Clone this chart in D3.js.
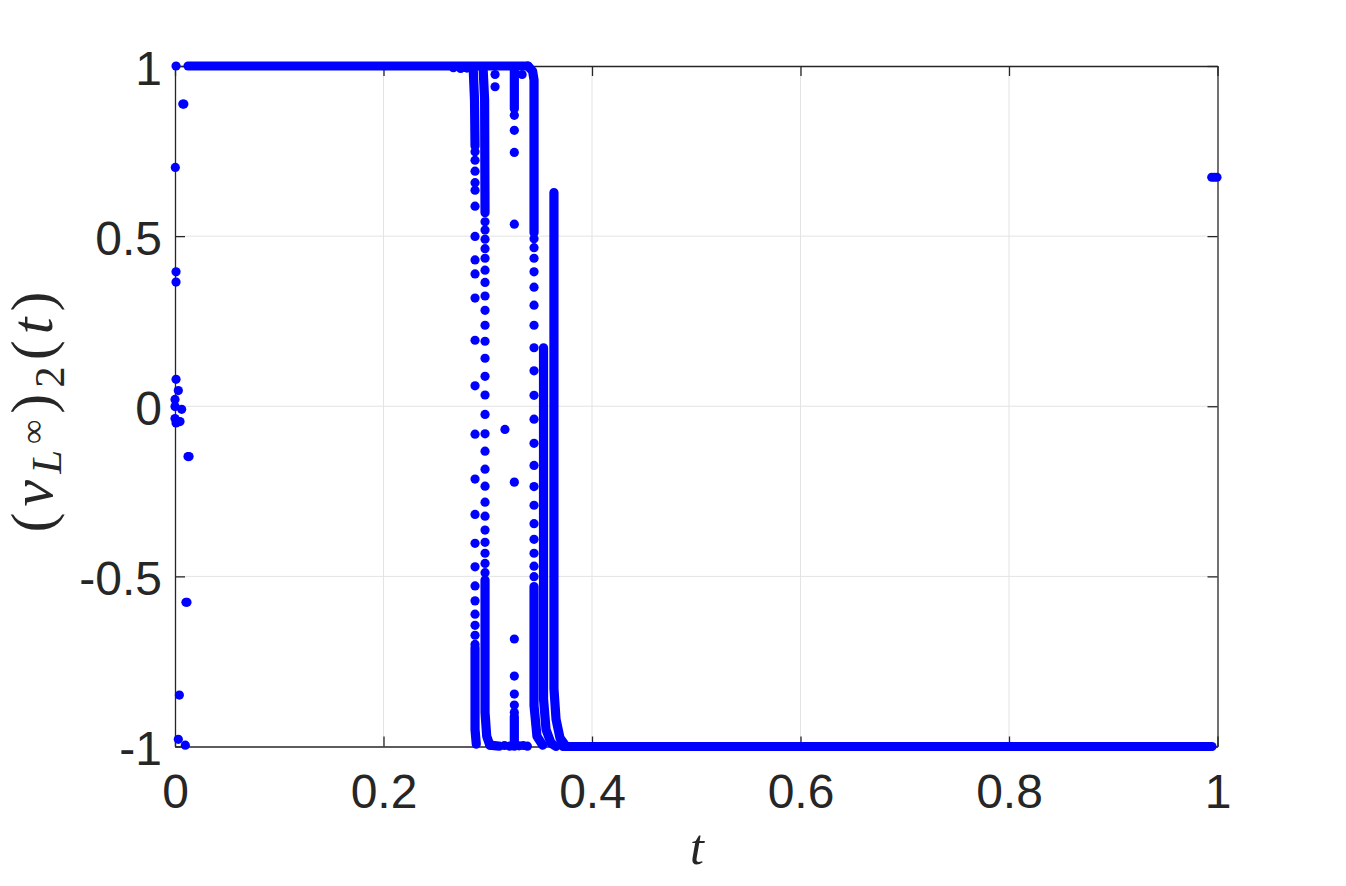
<!DOCTYPE html>
<html>
<head>
<meta charset="utf-8">
<script src="https://cdn.jsdelivr.net/npm/d3@7"></script>
<style>
  html, body { margin: 0; padding: 0; background: #ffffff; }
  svg { display: block; }
</style>
</head>
<body>
<svg id="chart" width="1346" height="886"></svg>
<script>
// ---------------- data ----------------
const xTicks = [0, 0.2, 0.4, 0.6, 0.8, 1];
const xTickLabels = ["0", "0.2", "0.4", "0.6", "0.8", "1"];
const yTicks = [-1, -0.5, 0, 0.5, 1];
const yTickLabels = ["-1", "-0.5", "0", "0.5", "1"];

// dense stretches of consecutive samples (markers overlap into a solid trace), [t, v]
const runTop      = [[0.0125, 1.0], [0.3386, 1.0]];
const runBottom   = [[0.3722, -1.0], [0.9947, -1.0]];
const runMidFloor = [[0.3020, -0.996], [0.3085, -0.998]];
const runA1 = [[0.2860, 0.995], [0.2873, 0.90], [0.2878, 0.765]];
const runA2 = [[0.2878, -0.710], [0.2878, -0.95], [0.2890, -0.993]];
const runB1 = [[0.2955, 0.995], [0.2970, 0.90], [0.2974, 0.569]];
const runB2 = [[0.2974, -0.511], [0.2974, -0.90], [0.2990, -0.97], [0.3020, -0.996]];
const runD1 = [[0.3255, 0.995], [0.3255, 0.874]];
const runD2 = [[0.3255, -0.912], [0.3255, -0.999]];
const runE1 = [[0.3386, 1.0], [0.3430, 0.985], [0.3444, 0.959], [0.3444, 0.510]];
const runE2 = [[0.3444, -0.530], [0.3444, -0.88], [0.3472, -0.97], [0.3527, -0.996]];
const runF  = [[0.3535, 0.172], [0.3535, -0.86], [0.3559, -0.95], [0.3607, -0.99], [0.3655, -1.0]];
const runG  = [[0.3635, 0.628], [0.3635, -0.83], [0.3655, -0.92], [0.3693, -0.975], [0.3751, -1.0]];

// isolated samples along the steep transitions
const colA_t = 0.2878;
const colA_v = [0.748, 0.723, 0.691, 0.657, 0.635, 0.588, 0.499, 0.430, 0.389, 0.318, 0.194, 0.060,
                -0.082, -0.214, -0.318, -0.403, -0.472, -0.528, -0.572, -0.611, -0.644, -0.673, -0.700];
const colB_t = 0.2974;
const colB_v = [0.542, 0.518, 0.491, 0.463, 0.435, 0.400, 0.364, 0.324, 0.282, 0.238, 0.191, 0.141,
                0.088, 0.033, -0.024, -0.081, -0.132, -0.185, -0.235, -0.282, -0.323, -0.364, -0.400,
                -0.432, -0.462, -0.489];
const colD_t = 0.3255;
const colD_v = [0.855, 0.811, 0.746, 0.535, -0.223, -0.684, -0.793, -0.846, -0.878, -0.900];
const colE_t = 0.3444;
const colE_v = [0.492, 0.466, 0.435, 0.395, 0.350, 0.297, 0.238, 0.172, 0.104, 0.032, -0.038, -0.109,
                -0.174, -0.236, -0.291, -0.345, -0.391, -0.432, -0.470, -0.501];

// other single samples, [t, v]
const looseDots = [
  [0.0010, 1.0], [0.0075, 0.888], [0.0085, 0.888], [0.0003, 0.702], [0.0010, 0.395], [0.0010, 0.365],
  [0.0010, 0.079], [0.0032, 0.046], [0.0000, 0.020], [0.0000, -0.001], [0.0064, -0.009],
  [0.0000, -0.036], [0.0048, -0.045], [0.0010, -0.049],
  [0.0125, -0.148], [0.0135, -0.148], [0.0105, -0.576], [0.0115, -0.576],
  [0.0042, -0.849], [0.0032, -0.979], [0.0099, -0.996],
  [0.2670, 0.995], [0.2740, 0.993], [0.2800, 0.994], [0.3070, 0.975], [0.3070, 0.939],
  [0.3165, -0.068], [0.3330, 0.975],
  [0.3110, -0.999], [0.3160, -0.997], [0.3210, -0.999], [0.3300, -0.998], [0.3340, -0.997], [0.3380, -0.999],
  [0.9945, 0.673], [0.9970, 0.673], [0.9995, 0.673]
];

// ---------------- drawing ----------------
const svg = d3.select("#chart");
const L = 175, R = 1217.5, T = 66, B = 746.5;
const x = d3.scaleLinear().domain([0, 1]).range([L, R]);
const y = d3.scaleLinear().domain([-1, 1]).range([B, T]);

const axisColor = "#262626";
const gridColor = "#e3e3e3";
const dotColor = "#0000ff";
const dotR = 4.6;

// grid
const grid = svg.append("g");
grid.selectAll("line.gx").data(xTicks.slice(1, -1)).enter().append("line")
  .attr("x1", d => x(d)).attr("x2", d => x(d)).attr("y1", T).attr("y2", B)
  .attr("stroke", gridColor).attr("stroke-width", 1);
grid.selectAll("line.gy").data(yTicks.slice(1, -1)).enter().append("line")
  .attr("y1", d => y(d)).attr("y2", d => y(d)).attr("x1", L).attr("x2", R)
  .attr("stroke", gridColor).attr("stroke-width", 1);

// axes
const fontSans = "'Liberation Sans', Arial, Helvetica, sans-serif";
const xAxis = d3.axisBottom(x).tickValues(xTicks).tickFormat((d, i) => xTickLabels[i])
  .tickSizeInner(-10).tickSizeOuter(0).tickPadding(27.5);
const yAxis = d3.axisLeft(y).tickValues(yTicks).tickFormat((d, i) => yTickLabels[i])
  .tickSizeInner(-10).tickSizeOuter(0).tickPadding(13);

const gx = svg.append("g").attr("transform", `translate(0,${B})`).call(xAxis);
const gy = svg.append("g").attr("transform", `translate(${L},0)`).call(yAxis);
[gx, gy].forEach(g => {
  g.select(".domain").attr("stroke", axisColor).attr("stroke-width", 1.3);
  g.selectAll(".tick line").attr("stroke", axisColor).attr("stroke-width", 1.3);
  g.selectAll(".tick text").attr("fill", axisColor).style("font-family", fontSans).style("font-size", "48px");
});
gy.selectAll(".tick text").attr("dy", "0.38em");

// top and right box edges with inward ticks
const gTop = svg.append("g").attr("transform", `translate(0,${T})`)
  .call(d3.axisTop(x).tickValues(xTicks).tickFormat("").tickSizeInner(-10).tickSizeOuter(0));
const gRight = svg.append("g").attr("transform", `translate(${R},0)`)
  .call(d3.axisRight(y).tickValues(yTicks).tickFormat("").tickSizeInner(-10).tickSizeOuter(0));
[gTop, gRight].forEach(g => {
  g.select(".domain").attr("stroke", axisColor).attr("stroke-width", 1.3);
  g.selectAll(".tick line").attr("stroke", axisColor).attr("stroke-width", 1.3);
});

// data
const data = svg.append("g");
const line = d3.line().x(d => x(d[0])).y(d => y(d[1]));
[runTop, runBottom, runMidFloor, runA1, runA2, runB1, runB2, runD1, runD2, runE1, runE2, runF, runG]
  .forEach(r => {
    data.append("path").attr("d", line(r)).attr("fill", "none")
      .attr("stroke", dotColor).attr("stroke-width", dotR * 2)
      .attr("stroke-linecap", "round").attr("stroke-linejoin", "round");
  });

const pts = [];
colA_v.forEach(v => pts.push([colA_t, v]));
colB_v.forEach(v => pts.push([colB_t, v]));
colD_v.forEach(v => pts.push([colD_t, v]));
colE_v.forEach(v => pts.push([colE_t, v]));
looseDots.forEach(p => pts.push(p));
data.selectAll("circle").data(pts).enter().append("circle")
  .attr("cx", d => x(d[0])).attr("cy", d => y(d[1])).attr("r", dotR).attr("fill", dotColor);

// axis labels
const fontSerif = "'Liberation Serif', 'DejaVu Serif', 'Times New Roman', serif";
svg.append("text")
  .attr("x", 697).attr("y", 864)
  .attr("text-anchor", "middle")
  .style("font-family", fontSerif).style("font-size", "50px").style("font-style", "italic")
  .attr("fill", axisColor)
  .text("t");

const yl = svg.append("text")
  .attr("transform", "translate(52,409) rotate(-90)")
  .attr("text-anchor", "middle")
  .style("font-family", fontSerif).style("font-size", "60px")
  .style("letter-spacing", "6px")
  .attr("fill", axisColor);
yl.append("tspan").text("(");
yl.append("tspan").style("font-style", "italic").text("v");
yl.append("tspan").style("font-style", "italic").style("font-size", "43px").attr("dy", 9).text("L");
yl.append("tspan").style("font-size", "34px").attr("dy", -17).text("∞");
yl.append("tspan").attr("dy", 8).text(")");
yl.append("tspan").style("font-size", "43px").attr("dy", 12).text("2");
yl.append("tspan").attr("dy", -12).text("(");
yl.append("tspan").style("font-style", "italic").text("t");
yl.append("tspan").text(")");
</script>
</body>
</html>
